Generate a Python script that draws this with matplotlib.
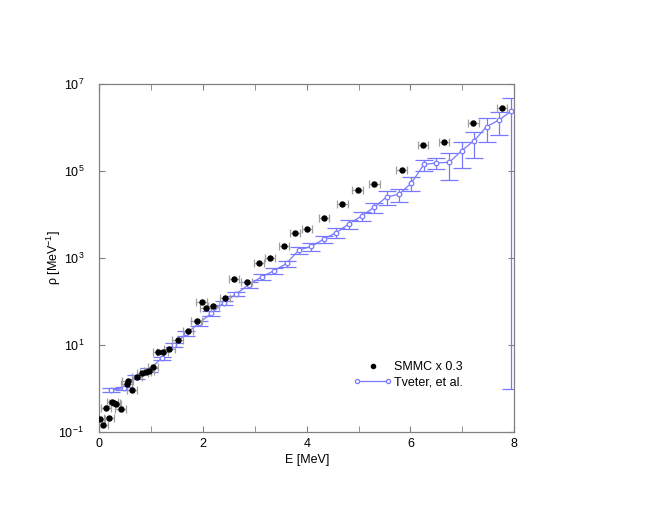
import numpy as np
import matplotlib
matplotlib.use('Agg')
import matplotlib.pyplot as plt
from matplotlib.lines import Line2D
from matplotlib.legend_handler import HandlerLine2D

plt.rcParams['font.family'] = ['Liberation Sans', 'DejaVu Sans']
plt.rcParams['mathtext.fontset'] = 'custom'
plt.rcParams['mathtext.rm'] = 'Liberation Sans'
plt.rcParams['mathtext.it'] = 'Liberation Sans:italic'

# ------------------------------- data ---------------------------------------
# SMMC (already scaled by 0.3)
smmc_E = [0.01, 0.06, 0.125, 0.19, 0.25, 0.29, 0.32, 0.41, 0.525, 0.545, 0.63,
          0.73, 0.83, 0.89, 0.955, 1.04, 1.14, 1.22, 1.35, 1.51, 1.715, 1.876,
          1.97, 2.05, 2.20, 2.42, 2.60, 2.84, 3.085, 3.29, 3.56, 3.77, 4.006,
          4.33, 4.69, 4.98, 5.305, 5.83, 6.245, 6.65, 7.216, 7.765]
smmc_rho = [0.195, 0.145, 0.363, 0.207, 0.48, 0.457, 0.437, 0.339, 1.26, 1.51, 0.93,
            1.86, 2.24, 2.40, 2.57, 3.16, 6.76, 6.76, 7.94, 12.9, 20.9, 36.3,
            95.5, 69.2, 79.4, 123, 324, 282, 776, 977, 1905, 3715, 4677,
            8511, 16980, 36300, 49000, 107000, 403000, 457000, 1.26e6, 2.75e6]
smmc_dE = 0.1

# Tveter et al.
tv_E = [0.23, 0.47, 0.71, 0.95, 1.20, 1.44, 1.68, 1.92, 2.16, 2.40, 2.64, 2.88,
        3.13, 3.37, 3.61, 3.85, 4.09, 4.33, 4.57, 4.81, 5.06, 5.30, 5.54, 5.78,
        6.02, 6.26, 6.50, 6.75, 6.99, 7.23, 7.47, 7.71, 7.95]
tv_rho = [0.925, 1.0, 1.84, 2.66, 4.94, 10.0, 18.6, 31.6, 53.6, 93.8, 149, 243,
          366, 511, 748, 1528, 1837, 2735, 3819, 6053, 9247, 14655, 25235, 29107,
          52966, 140929, 152757, 158489, 293089, 497737, 1.04e6, 1.49e6, 2.39e6]
# relative uncertainties
tv_rel = [0.10, 0.10, 0.10, 0.10, 0.10, 0.12, 0.12, 0.12, 0.12, 0.12, 0.12, 0.15,
          0.15, 0.15, 0.15, 0.20, 0.20, 0.20, 0.25, 0.25, 0.25, 0.25, 0.35, 0.35,
          0.35, 0.28, 0.28, 0.60, 0.60, 0.60, 0.55, 0.55, 0.9999996]

blue = '#7878ff'
grey = '#808080'

# ------------------------------- plot ---------------------------------------
fig = plt.figure(figsize=(6.54, 5.05), dpi=100)
ax = fig.add_axes([0.152, 0.1446, 0.634, 0.6891])

tv_rho_a = np.array(tv_rho)
tv_err = np.array(tv_rel) * tv_rho_a
ax.errorbar(tv_E, tv_rho, yerr=tv_err, fmt='-o', color=blue, lw=0.9,
            elinewidth=0.9, capsize=6.5, capthick=0.9, ms=3.3,
            mfc='white', mec=blue, mew=0.9, zorder=2)
ax.errorbar(smmc_E, smmc_rho, xerr=smmc_dE, fmt='o', color='black', ms=3.6,
            ecolor='#a0a0a0', elinewidth=0.9, capsize=2.7, capthick=0.9, zorder=3)

ax.set_yscale('log')
ax.set_xlim(0, 8)
ax.set_ylim(1e-1, 1e7)
ax.set_xticks([0, 2, 4, 6, 8])
ax.set_xticks([1, 3, 5, 7], minor=True)
ax.set_yticks([1e-1, 1e1, 1e3, 1e5, 1e7])
ax.set_yticks([], minor=True)
ax.tick_params(which='both', direction='in', top=True, right=True, length=4,
               color=grey, labelsize=9)
ax.tick_params(axis='y', pad=11)
ax.tick_params(axis='x', pad=4)
for s in ax.spines.values():
    s.set_color(grey)
    s.set_linewidth(0.9)

ax.set_xlabel('E [MeV]', fontsize=9, labelpad=3)
ax.set_ylabel(r'ρ [MeV$^{-1}$]', fontsize=9, labelpad=-3)


class RightDot(HandlerLine2D):
    def get_xdata(self, legend, xdescent, ydescent, width, height, fontsize):
        xd, xm = super().get_xdata(legend, xdescent, ydescent, width, height, fontsize)
        return xd, [-xdescent + width]


h1 = Line2D([], [], ls='none', marker='o', color='black', ms=3)
h2 = Line2D([], [], ls='-', marker='o', color=blue, lw=0.9, ms=3,
            mfc='white', mec=blue, mew=0.9)
ax.legend([h1, h2], ['SMMC x 0.3', 'Tveter, et al.'],
          handler_map={h1: RightDot(numpoints=1), h2: HandlerLine2D(numpoints=2, marker_pad=0)},
          loc='upper left', bbox_to_anchor=(357 / 654, 1 - 361 / 505),
          bbox_transform=fig.transFigure, frameon=False, fontsize=9,
          handlelength=2.5, handletextpad=0.45, labelspacing=0.25,
          borderpad=0, borderaxespad=0)

plt.savefig('out.png', dpi=100)
